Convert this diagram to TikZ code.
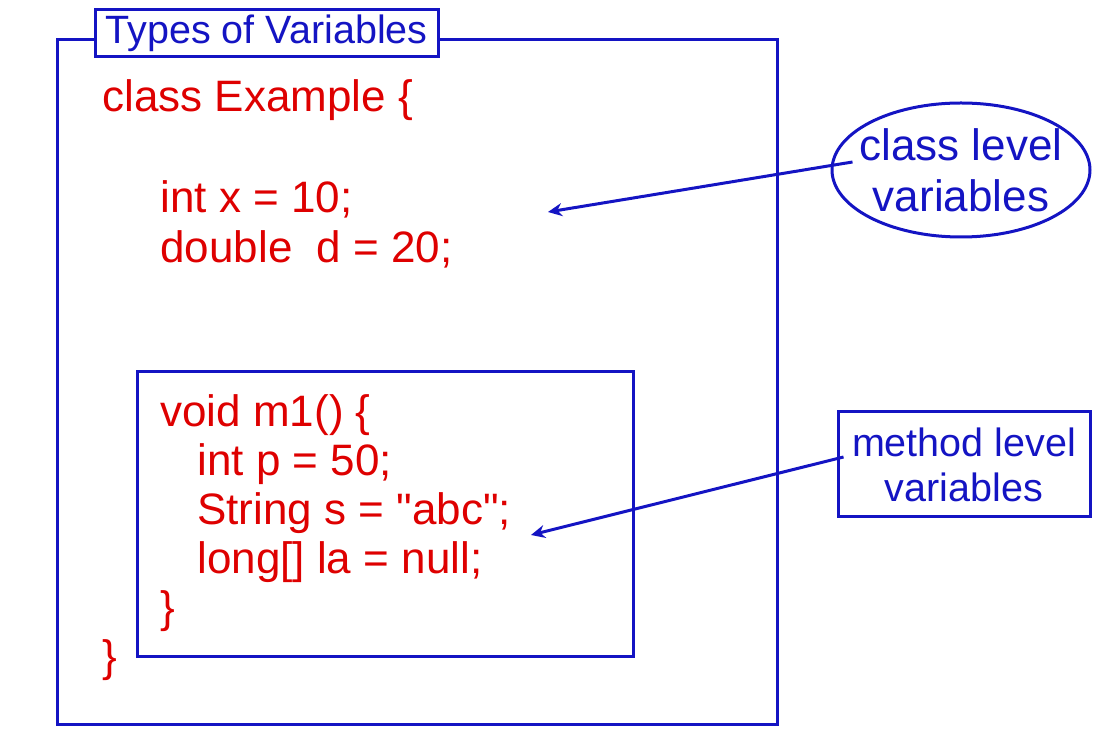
\documentclass[tikz,border=0pt]{standalone}
\usepackage{fontspec}
\setmainfont{Liberation Sans}
\usetikzlibrary{arrows.meta,shapes.geometric}
\definecolor{codered}{RGB}{222,0,0}
\definecolor{boxblue}{RGB}{20,20,195}
\begin{document}
\begin{tikzpicture}[x=0.5pt, y=-0.5pt,
		code/.style={anchor=base west, inner sep=0pt, text=codered, font=\fontsize{22}{25}\selectfont},
		frame/.style={draw=boxblue, line width=1.5pt},
		note/.style={frame, text=boxblue, align=center, inner sep=0pt},
		pointer/.style={draw=boxblue, line width=1.5pt, -{Stealth[length=7pt, width=6.5pt]}}]
		\useasboundingbox (0, 0) rectangle (1105, 748);
		\draw[frame] (57, 40) rectangle (777, 725);
		\draw[frame] (137, 372) rectangle (633, 657);
		\node[note, fill=white, minimum width=171.5pt, minimum height=23.5pt,
			font=\fontsize{19.75}{22}\selectfont] (title) at (266.5, 33.5) {Types of Variables};
		\foreach \x/\y/\txt [count=\i] in {102/112/class Example \{, 160/213/int x = 10;,
				160/263/double\ \ d = 20;, 160/427/void m1() \{, 197/476/int p = 50;,
				197/525/String s = \textquotedbl abc\textquotedbl;, 197/574/long[] la = null;,
				160/623/\}, 102/672/\}}
			\node[code] (line\i) at (\x, \y) {\txt};
		\node[note, ellipse, inner xsep=-5.2pt, minimum width=129pt, minimum height=67pt,
			font=\fontsize{22}{25.5}\selectfont] (cls) at (961, 170) {class level\\variables};
		\node[note, minimum width=126pt, minimum height=52.5pt,
			font=\fontsize{19.75}{22.5}\selectfont] (meth) at (964, 464.5) {method level\\variables};
		\coordinate (clsTip) at (548, 212);
		\coordinate (methTip) at (531, 535);
		\draw[pointer] ([xshift=11pt, yshift=4pt]cls.west) -- (clsTip);
		\draw[pointer] ([xshift=3.5pt, yshift=3.75pt]meth.west) -- (methTip);
\end{tikzpicture}
\end{document}
